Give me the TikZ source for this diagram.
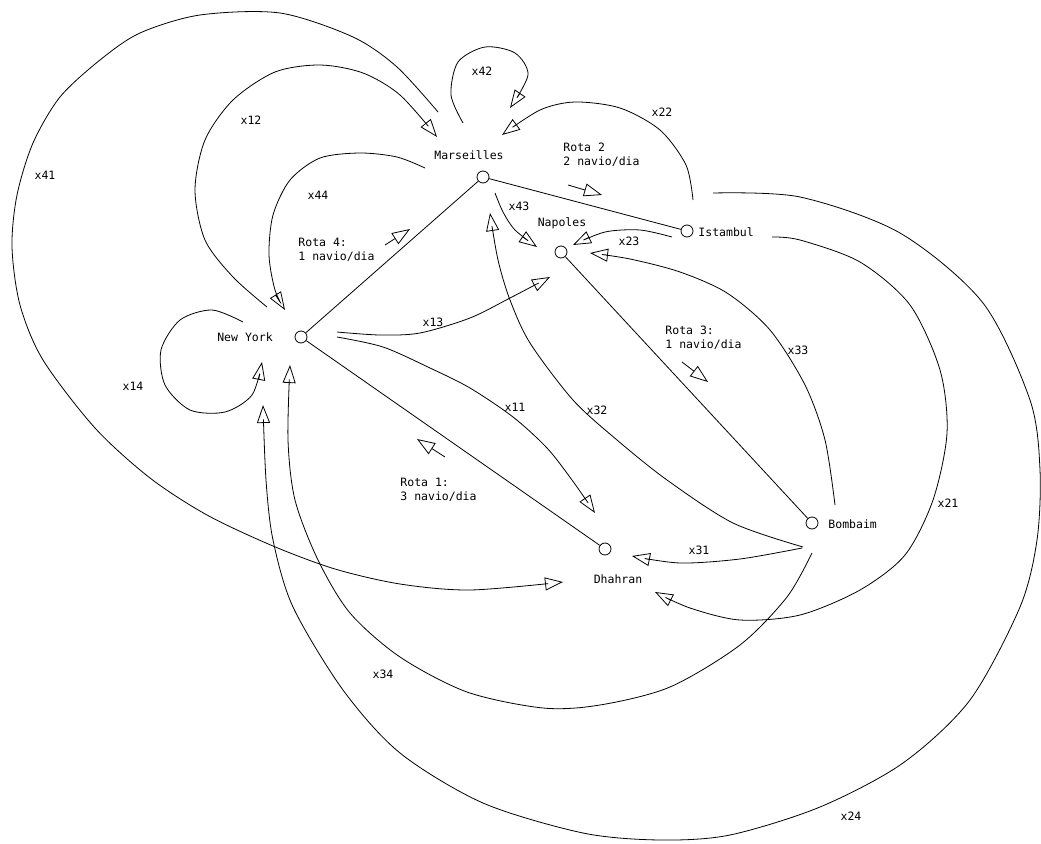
\documentclass[tikz,border=0pt]{standalone}
\usepackage{fontspec}
\setmainfont{DejaVu Sans Mono}
\usetikzlibrary{arrows.meta}

\begin{document}
\begin{tikzpicture}[x=1pt, y=-1pt, line width=0.8pt,
        city/.style={draw, circle, minimum size=12pt, inner sep=0pt},
        flow/.style={-{Triangle[open, length=18pt, width=13pt]}},
        lbl/.style={font=\fontsize{11.5}{14}\selectfont, inner sep=0pt, align=left}]
        \useasboundingbox (0, 0) rectangle (1041, 843);

        % Cities
        \node [city] (mar) at (483, 177) {};
        \node [lbl] (marl) at (469, 155) {Marseilles};
        \node [city] (ist) at (687, 231) {};
        \node [lbl, anchor=west] (istl) at (698, 232) {Istambul};
        \node [city] (nap) at (561, 252) {};
        \node [lbl] (napl) at (562, 223) {Napoles};
        \node [city] (ny) at (301, 337) {};
        \node [lbl] (nyl) at (245, 337) {New York};
        \node [city] (bom) at (812, 523) {};
        \node [lbl, anchor=west] (boml) at (828, 524) {Bombaim};
        \node [city] (dha) at (605, 549) {};
        \node [lbl] (dhal) at (618, 579) {Dhahran};

        % Routes
        \draw (ny) -- (mar);
        \draw (mar) -- (ist);
        \draw (nap) -- (bom);
        \draw (ny) -- (dha);
        \node [lbl, anchor=west] (rota4) at (298, 250) {Rota 4:\\1 navio/dia};
        \node [lbl, anchor=west] (rota2) at (563, 155) {Rota 2\\2 navio/dia};
        \node [lbl, anchor=west] (rota3) at (665, 338) {Rota 3:\\1 navio/dia};
        \node [lbl, anchor=west] (rota1) at (400, 490) {Rota 1:\\3 navio/dia};
        \coordinate (r4a) at (385, 245); \coordinate (r4b) at (410, 229);
        \coordinate (r2a) at (568, 185); \coordinate (r2b) at (602, 195);
        \coordinate (r3a) at (682, 362); \coordinate (r3b) at (708, 382);
        \coordinate (r1a) at (445, 457); \coordinate (r1b) at (417, 439);
        \draw [flow] (r4a) -- (r4b);
        \draw [flow] (r2a) -- (r2b);
        \draw [flow] (r3a) -- (r3b);
        \draw [flow] (r1a) -- (r1b);

        % Flow ends
        \coordinate (x41s) at (438, 112); \coordinate (x41e) at (563, 582);
        \coordinate (x12s) at (267, 307); \coordinate (x12e) at (437, 137);
        \coordinate (x44s) at (425, 168); \coordinate (x44e) at (285, 310);
        \coordinate (x42s) at (463, 123); \coordinate (x42e) at (510, 108);
        \coordinate (x22s) at (693, 200); \coordinate (x22e) at (502, 135);
        \coordinate (x43s) at (495, 193); \coordinate (x43e) at (537, 247);
        \coordinate (x23s) at (672, 237); \coordinate (x23e) at (573, 245);
        \coordinate (x33s) at (835, 505); \coordinate (x33e) at (590, 253);
        \coordinate (x21s) at (772, 237); \coordinate (x21e) at (655, 592);
        \coordinate (x24s) at (713, 193); \coordinate (x24e) at (263, 405);
        \coordinate (x34s) at (812, 553); \coordinate (x34e) at (290, 365);
        \coordinate (x14s) at (243, 322); \coordinate (x14e) at (262, 362);
        \coordinate (x13s) at (337, 332); \coordinate (x13e) at (550, 277);
        \coordinate (x11s) at (337, 337); \coordinate (x11e) at (595, 513);
        \coordinate (x32s) at (803, 547); \coordinate (x32e) at (490, 213);
        \coordinate (x31s) at (802, 548); \coordinate (x31e) at (632, 556);

        % Flows
        \draw [flow] plot [smooth] coordinates {(x41s) (397, 67) (353, 37) (280, 13) (200, 15) (140, 33) (100, 60) (60, 97) (33, 143) (17, 195) (12, 247) (20, 305) (43, 360) (95, 428) (150, 478) (207, 515) (273, 546) (335, 569) (400, 584) (470, 590) (x41e)};
        \draw [flow] plot [smooth] coordinates {(x12s) (233, 277) (205, 240) (195, 190) (205, 140) (233, 100) (275, 72) (320, 65) (363, 73) (400, 95) (x12e)};
        \draw [flow] plot [smooth] coordinates {(x44s) (397, 157) (360, 153) (320, 158) (290, 180) (273, 215) (269, 255) (275, 290) (x44e)};
        \draw [flow] plot [smooth] coordinates {(x42s) (451, 95) (458, 62) (485, 47) (515, 53) (528, 75) (x42e)};
        \draw [flow] plot [smooth] coordinates {(x22s) (686, 165) (660, 130) (620, 108) (575, 102) (540, 110) (x22e)};
        \draw [flow] plot [smooth] coordinates {(x43s) (503, 212) (515, 230) (x43e)};
        \draw [flow] plot [smooth] coordinates {(x23s) (640, 230) (605, 232) (x23e)};
        \draw [flow] plot [smooth] coordinates {(x33s) (825, 440) (805, 385) (770, 330) (727, 293) (680, 272) (630, 259) (x33e)};
        \draw [flow] plot [smooth] coordinates {(x21s) (800, 240) (860, 262) (910, 305) (940, 370) (947, 433) (933, 500) (905, 555) (860, 590) (800, 615) (740, 620) (690, 608) (x21e)};
        \draw [flow] plot [smooth] coordinates {(x24s) (800, 197) (900, 233) (983, 303) (1030, 400) (1040, 470) (1037, 540) (1020, 607) (970, 700) (903, 763) (820, 807) (730, 835) (660, 840) (583, 833) (483, 803) (400, 753) (343, 690) (293, 607) (273, 540) (266, 480) (x24e)};
        \draw [flow] plot [smooth] coordinates {(x34s) (787, 597) (740, 645) (670, 687) (600, 705) (543, 708) (467, 692) (400, 657) (350, 613) (318, 560) (295, 500) (288, 440) (x34e)};
        \draw [flow] plot [smooth] coordinates {(x14s) (212, 310) (180, 320) (161, 350) (165, 385) (190, 410) (225, 412) (252, 395) (x14e)};
        \draw [flow] plot [smooth] coordinates {(x13s) (380, 335) (420, 333) (470, 318) (510, 298) (x13e)};
        \draw [flow] plot [smooth] coordinates {(x11s) (383, 347) (430, 368) (470, 388) (513, 417) (547, 448) (572, 480) (x11e)};
        \draw [flow] plot [smooth] coordinates {(x32s) (733, 523) (667, 480) (617, 440) (573, 400) (530, 343) (510, 300) (498, 260) (x32e)};
        \draw [flow] plot [smooth] coordinates {(x31s) (740, 559) (680, 563) (x31e)};

        % Flow labels
        \node [lbl] (l41) at (45, 175) {x41};
        \node [lbl] (l12) at (251, 120) {x12};
        \node [lbl] (l42) at (482, 71) {x42};
        \node [lbl] (l22) at (662, 112) {x22};
        \node [lbl] (l44) at (318, 195) {x44};
        \node [lbl] (l43) at (519, 206) {x43};
        \node [lbl] (l23) at (629, 241) {x23};
        \node [lbl] (l13) at (433, 322) {x13};
        \node [lbl] (l14) at (133, 386) {x14};
        \node [lbl] (l11) at (515, 407) {x11};
        \node [lbl] (l32) at (597, 410) {x32};
        \node [lbl] (l33) at (798, 350) {x33};
        \node [lbl] (l31) at (699, 550) {x31};
        \node [lbl] (l21) at (948, 503) {x21};
        \node [lbl] (l34) at (383, 674) {x34};
        \node [lbl] (l24) at (851, 816) {x24};
    \end{tikzpicture}
\end{document}
